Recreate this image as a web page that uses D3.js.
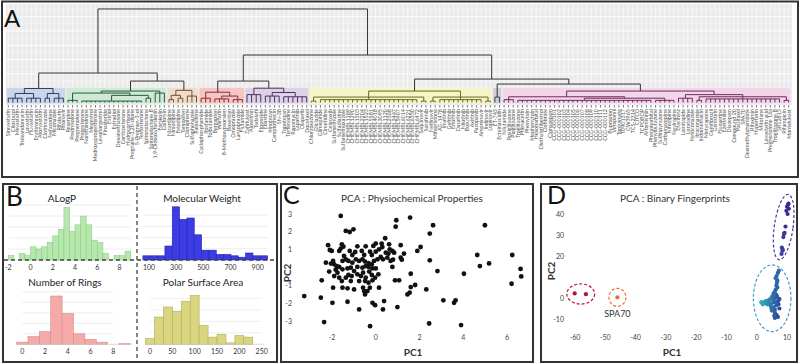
<!DOCTYPE html>
<html>
<head>
<meta charset="utf-8">
<script src="https://cdnjs.cloudflare.com/ajax/libs/d3/7.8.5/d3.min.js"></script>
<style>
body { margin: 0; background: #fff; }
svg { display: block; }
text { font-family: Lato, "Open Sans", "Liberation Sans", sans-serif; }
</style>
</head>
<body>
<svg id="fig" width="800" height="364"></svg>
<script>
// ---------- Panel A : dendrogram data ----------
const leafLabels = [
  // blue
  "Simvastatin","Cilostazol","Mevastatin","Troleandomycin","Lovastatin","Fluvastatin","Erythromycin","Atorvastatin","Clotrimazole","Nefazodone","Miconazole","Rifabutin","Ritonavir",
  // green
  "Reserpine","Prednisolone","Pregnenolone","Progesterone","Norethindrone","Megestrol","Medroxyprogesterone","Levonorgestrel","Finasteride","Estriol","Estradiol","Dexamethasone","Corticosterone","Hydrocortisone","Pregnane-3,20-dione","5-Pregnen-3-ol","Testosterone","Spironolactone","Spironolactone B","1,9-Dideoxyforskolin","Forskolin","Colforsin",
  // tan
  "Nicardipine","Nimodipine","Felodipine","Tamoxifen","Clomiphene","Sulfaphenazole","Raloxifene",
  // red
  "Cyclophosphamide","Ifosfamide","Tolbutamide","Bergapten","Warfarin","8-Methoxypsoralen","Bosentan","Omeprazole","Lansoprazole","Flutamide",
  // purple
  "Zafirlukast","Alosetron","Tadalafil","Etoposide","Ebastine","Irinotecan","Camptothecin","SN-38","Topotecan","Terfenadine","Rapamycin","Lapatinib","Olaparib","Docetaxel",
  // yellow
  "Chlorzoxazone","Gliclazide","Glimepiride","Cimetidine","Celecoxib","Sulfamethizole","Sulfadiazine","Sulfamethoxazole",
  "CHEMBL1189","CHEMBL1290","CHEMBL1303","CHEMBL2204","CHEMBL1523","CHEMBL5581","CHEMBL4018","CHEMBL3095",
  "CHEMBL1120","CHEMBL2368","CHEMBL2447","CHEMBL5907","CHEMBL6014","CHEMBL6221","CHEMBL6350","CHEMBL6472",
  "Saquinavir","Sorafenib","Nelfinavir","Mifepristone","AG-1478","Imatinib","Gefitinib","Erlotinib","Dasatinib","Nilotinib","Bosutinib","Axitinib","Pazopanib","Amprenavir","Indinavir","Lopinavir",
  // grey
  "ET-743","Ecteinascidin",
  // pink
  "Nilutamide","Rosiglitazone","Pioglitazone","Troglitazone","Phenacetin","Phenytoin","Mephenytoin","Hexobarbital","Diethylstilbestrol","Clofibrate","Clonazepam",
  "CCG-000101","CCG-000102","CCG-000103","CCG-000104","CCG-000105","CCG-000106","CCG-000107","CCG-000108","CCG-000109","CCG-000110","CCG-000111","CCG-000112",
  "Bupropion","Verapamil","Topiramate","T0901317","GW3965","TCS-2314","CITCO","TCPOBOP","Artemisinin","Phenobarbital",
  "Phenylbutazone","Sulfinpyrazone","Carbamazepine","Nifedipine","Nevirapine","Efavirenz","Lomitapide","Loratadine","Ketoconazole","Itraconazole",
  "Indomethacin","Metyrapone","Gemfibrozil","Genistein","Fluoxetine","Ezetimibe","Diazepam","Compound 20","Paclitaxel","SPA70",
  "Dexmethylphenidate","Rifaximin","Hyperforin","Mitotane","Lovastatin acid","Pregnenolone 16a","Troglitazone B","SR12813","Rifampicin","Montelukast"
]

// each cluster: [height, child, child...]  (a number = that many leaves)
const clusterTrees = [
  [0.98, [0.63, [0.3, 4], [0.3, 4]], [0.63, [0.3, 2], [0.3, 3]]],
  [0.80, [0.66, [0.15, 3], [0.5, [0.1, 14], [0.3, 2]]], [0.66, 3]],
  [0.85, [0.5, [0.2, 2], [0.3, 2]], [0.45, 3]],
  [0.72, [0.3, 3], [0.45, [0.25, 4], [0.2, 3]]],
  [1.0, [0.55, 4], [0.7, [0.45, 4], [0.4, 6]]],
  [0.8, [0.38, [0.1, 2], [0.2, 22], [0.1, 2]], [0.38, [0.1, 2], [0.2, 10], [0.1, 2]]],
  [0.38, 2],
  [0.8, [0.4, [0.2, 3], [0.3, [0.15, 30], [0.15, 5]]], [0.55, [0.3, 4], [0.4, [0.15, 2], [0.25, 17], [0.15, 2]]]]
]
// upper part of the tree, numbers are cluster indexes
const upperTree = [6.54, [2.06, 0, [1.5, 1, 2]], [3.32, [1.5, 3, 4], [1.64, 5, [1.29, 6, 7]]]]

const clusterFills = ["#c9d4ea", "#cde9d4", "#eedccb", "#f6c3c3", "#ddd0e6", "#f6f4c4", "#c9ced8", "#f3d4ea"]
const clusterLines = ["#2e3b66", "#245c3a", "#7a4c2c", "#8c2c2c", "#4b3064", "#6a6920", "#3a4152", "#6d2c5c"]

// ---------- Panel B : histogram data ----------
const alogpCounts = [2, 0, 3, 2, 6, 5, 6, 8, 11, 14, 24, 13, 16, 20, 16, 9, 8, 3, 0, 2, 2, 4]
const alogpTicks = [-2, 0, 2, 4, 6, 8]
const mwCounts = [3, 3, 3, 10, 38, 29, 30, 18, 7, 7, 4, 4, 3, 2, 5, 3, 3]
const mwTicks = [100, 300, 500, 700, 900]
const ringCounts = [3, 11, 18, 69, 44, 15, 7, 3, 0, 1]
const ringTicks = [0, 2, 4, 6, 8]
const psaCounts = [4, 19, 26, 23, 30, 34, 13, 5, 7, 1, 6, 5]
const psaTicks = [0, 50, 100, 150, 200, 250]

// ---------- Panel C : PCA physicochemical ----------
const physPC1 = [-1.60, 1.57, 0.94, 0.91, 2.62, 2.47, 4.99, -1.37, -1.19, -1.02, 0.43, 0.27, 0, -0.11, -0.46, -0.84, 1.14, -2.18, -2.10, -2.01,
  -1.55, -1.48, -1.60, -1.67, -1.19, -0.94, -0.64, 0.15, 0.30, 0.61, 0.64, 0.76, 0.84, 1.29, 1.90, 2.05, 4.64, 6.24, -0.26, -0.18,
  0, -2.28, -2.05, -1.90, -1.78, -1.52, -1.37, -1.25, -1.07, -0.91, -0.76, -0.61, -0.49, -0.33, -0.18, -0.08, 0.08, 0.23, 0.33, 0.53,
  0.68, 0.79, 1.14, 1.19, 2.47, 0.76, -1.83, -1.52, -1.29, -1.67, -1.14, -0.61, -0.33, -0.15, 0, 4.76, 5.18, 4.03, 6.62, 6.65,
  6.21, -2.47, -2.13, -1.90, -1.75, -1.67, -1.55, -1.37, -1.25, -1.10, -0.99, -0.84, -0.68, -0.58, -0.46, -0.30, -0.18, -0.03, 0.12, -0.49,
  -0.33, -0.15, -0.27, 0.15, -1.95, -1.52, -1.29, -0.99, 0.88, 1.07, 1.60, 2.82, 1.80, 1.60, 1.55, 2.31, -3.27, -2.51, -1.98, -1.29,
  -0.58, -0.53, -0.49, -0.38, 0.38, 0.33, -0.15, -0.03, -0.76, 0.99, 3.09, 3.65, 3.58, -2.36, -0.26, 2.44, 3.90, 1.45, -1.45, -1.07,
  -0.53, 0.46, 0.58, -0.84, -0.46, -1.95, -1.14, -0.76]
const physPC2 = [2.89, 2.80, 2.65, 2.29, 2.37, 1.90, 2.37, 2.05, 1.99, 2.14, 1.64, 1.34, 1.34, 1.21, 1.19, 1.19, 1.25, 1.25, 0.98, 0.93,
  1.30, 1.17, 1.06, 0.93, 0.93, 0.87, 0.93, 1.02, 1.15, 1.30, 1.02, 0.93, 0.83, 0.78, 0.93, 1.15, 0.70, 0.70, 0.89, 0.70,
  0.89, 0.27, 0.22, 0.18, 0.07, 0.37, 0.46, 0.37, 0.27, 0.46, 0.37, 0.46, 0.33, 0.25, 0.18, 0.37, 0.46, 0.59, 0.46, 0.55,
  0.37, 0.44, 0.55, 0.44, 0.40, 0.03, -0.12, -0.10, -0.05, 0.03, -0.01, -0.01, 0.03, -0.05, -0.05, 0.08, 0.23, -0.35, -0.08, -0.50,
  -0.91, -0.72, -0.23, -0.48, -0.29, -0.57, -0.76, -0.57, -0.42, -0.48, -0.20, -0.38, -0.48, -0.29, -0.57, -0.23, -0.42, -0.57, -0.38, -0.76,
  -0.85, -0.72, -1.13, -1.13, -1.13, -1.13, -1.17, -1.23, -0.72, -0.72, -0.35, -0.20, -0.98, -1.10, -1.41, -1.23, -1.60, -1.69, -1.98, -1.92,
  -1.13, -1.32, -1.51, -1.32, -1.88, -2.35, -1.98, -2.11, -2.35, -2.22, -1.84, -1.84, -1.98, -3.06, -3.29, -3.14, -3.23, -1.51, 0.65, 0.70,
  0.70, 0.83, 0.78, 0.03, 0.08, 0.37, -0.76, -0.76]
const physXTicks = [-2, 0, 2, 4, 6]
const physYTicks = [-3, -2, -1, 1, 2, 3]

// ---------- Panel D : PCA binary fingerprints ----------
const fpPC1 = [-60.1, -56.4, -46.0,
  10.4, 10.0, 10.6, 9.8, 10.2, 9.5, 9.0, 8.8, 8.3, 8.5, 8.2, 8.6, 9.2, 10.5,
  7.3, 7.0, 6.8, 6.7, 6.5, 6.8, 6.3, 6.0, 5.5, 6.5, 5.8, 5.0, 6.0, 4.5, 5.5, 3.5, 4.0, 2.5, 1.5, 3.0,
  5.0, 6.0, 7.0, 7.2, 6.5, 4.5, 3.5, 2.0, 5.5, 6.0, 5.0, 6.0, 6.5, 5.8, 7.0, 6.0, 7.5, 6.8, 4.0, 3.0,
  5.8, 6.2, 6.6, 7.5, 4.8]
const fpPC2 = [2.2, 1.8, 0.3,
  44.5, 43.5, 42.5, 41.5, 40.0, 34.0, 30.5, 29.0, 24.0, 22.5, 21.0, 23.0, 31.0, 45.0,
  13.0, 12.0, 8.5, 7.5, 6.0, 5.0, 4.0, 3.0, 2.0, 1.5, 1.0, 0.5, 0.0, -0.5, -1.0, -1.5, -2.0, -2.0, -2.0, -2.5,
  -2.5, -2.0, -1.5, -3.0, -3.5, -3.5, -3.0, -3.0, -4.5, -5.5, -6.0, -7.0, -8.0, -8.5, -9.0, -9.5, -0.5, 0.5, -1.0, -1.5,
  2.5, 9.5, 10.5, -5.0, -4.8]
const fpGroup = ["red", "red", "orange",
  "purple", "purple", "purple", "purple", "purple", "purple", "purple", "purple", "purple", "purple", "purple", "purple", "purple", "purple",
  "blue", "blue", "blue", "blue", "blue", "blue", "blue", "blue", "blue", "blue", "blue", "blue", "blue", "blue", "blue", "blue", "blue", "blue", "blue", "blue",
  "blue", "blue", "blue", "blue", "blue", "blue", "blue", "blue", "blue", "blue", "blue", "blue", "blue", "blue", "blue", "blue", "blue", "blue", "blue", "blue",
  "blue", "blue", "blue", "blue", "blue"]
const fpXTicks = [-60, -50, -40, -30, -20, -10, 0, 10]
const fpYTicks = [-10, 0, 20, 30, 40]
// dashed ellipses: centre, radii in data units
const fpEllipseCX = [-58.1, -46.0, 8.9, 5.1]
const fpEllipseCY = [1.9, 0.3, 33.8, -0.15]
const fpEllipseRX = [4.6, 2.8, 3.1, 6.2]
const fpEllipseRY = [4.8, 4.3, 15.7, 15.9]
const fpEllipseTilt = [0, 0, 8, 0]
const fpEllipseColor = ["#c0122c", "#f26a2a", "#4b36a6", "#3d9bd3"]

const fig = d3.select("#fig")

// ================= Panel A =================
let leafCounter = 0
function buildCluster(spec, c){
    let node = {h: spec[0], cluster: c, children: []}
    spec.slice(1).forEach(ch => {
        if (typeof ch === "number"){
            for (let k = 0; k < ch; k++) node.children.push({h: 0, cluster: c, idx: leafCounter++})
        }
        else node.children.push(buildCluster(ch, c))
    })
    return node
}
function buildUpper(spec){
    let node = {h: spec[0], children: []}
    spec.slice(1).forEach(ch => {
        if (typeof ch === "number") node.children.push(buildCluster(clusterTrees[ch], ch))
        else node.children.push(buildUpper(ch))
    })
    return node
}
const treeRoot = d3.hierarchy(buildUpper(upperTree))

const xLeaf = d3.scaleBand().domain(d3.range(leafLabels.length)).range([6, 791])
const bw = xLeaf.bandwidth()
const yH = d3.scaleLinear().domain([0, 7]).range([102.5, 102.5 - 7 * 14.3])

treeRoot.eachAfter(n => {
    if (n.children) n.x = (n.children[0].x + n.children[n.children.length - 1].x) / 2
    else n.x = xLeaf(n.data.idx) + bw / 2
})

const gA = fig.append("g")
gA.append("rect").attr("x", 6).attr("y", 4).attr("width", 786).attr("height", 101).attr("fill", "#ebebeb")
gA.selectAll("line.vgrid").data(d3.range(leafLabels.length)).join("line")
    .attr("x1", d => xLeaf(d) + bw / 2).attr("x2", d => xLeaf(d) + bw / 2)
    .attr("y1", 4).attr("y2", 105).attr("stroke", "#fff").attr("stroke-width", 0.6)
gA.selectAll("line.hminor").data(d3.range(0.5, 7, 1)).join("line")
    .attr("x1", 6).attr("x2", 792).attr("y1", d => yH(d)).attr("y2", d => yH(d))
    .attr("stroke", "#fff").attr("stroke-width", 0.4)
gA.selectAll("line.hgrid").data(d3.range(0, 7)).join("line")
    .attr("x1", 6).attr("x2", 792).attr("y1", d => yH(d)).attr("y2", d => yH(d))
    .attr("stroke", "#fff").attr("stroke-width", 0.9)

// cluster boxes
const leaves = treeRoot.leaves()
clusterTrees.forEach((t, c) => {
    let ids = leaves.filter(l => l.data.cluster === c).map(l => l.data.idx)
    let x0 = xLeaf(d3.min(ids)) + 0.6
    let x1 = xLeaf(d3.max(ids)) + bw - 0.6
    gA.append("rect").attr("x", x0).attr("width", x1 - x0)
        .attr("y", yH(1.03)).attr("height", yH(-0.06) - yH(1.03))
        .attr("fill", clusterFills[c]).attr("opacity", 0.95)
})

// branches
let segs = []
treeRoot.each(n => {
    if (!n.children) return
    let col = n.data.cluster === undefined ? "#333" : clusterLines[n.data.cluster]
    let kids = n.children
    segs.push({d: `M${kids[0].x},${yH(n.data.h)}H${kids[kids.length - 1].x}`, col: col})
    kids.forEach(k => segs.push({d: `M${k.x},${yH(n.data.h)}V${yH(k.data.h)}`, col: col}))
})
gA.selectAll("path.branch").data(segs).join("path")
    .attr("d", d => d.d).attr("stroke", d => d.col).attr("stroke-width", 1).attr("fill", "none")

// ticks + labels
gA.selectAll("line.tick").data(leaves).join("line")
    .attr("x1", d => d.x).attr("x2", d => d.x).attr("y1", 105).attr("y2", 107.5)
    .attr("stroke", "#555").attr("stroke-width", 0.8)
gA.selectAll("text.leaf").data(leaves).join("text")
    .attr("transform", d => `translate(${d.x + 1.9},109) rotate(-90)`)
    .attr("text-anchor", "end").attr("font-size", 5.4).attr("fill", "#555")
    .text(d => leafLabels[d.data.idx] || "")

gA.append("text").attr("x", 4).attr("y", 27).attr("font-size", 24).attr("fill", "#111").text("A")

// ================= Panel B =================
const gB = fig.append("g")
function drawHist(spec){
    let xs = d3.scaleLinear().domain(spec.xDomain).range(spec.xRange)
    let ys = d3.scaleLinear().domain([0, spec.yMax]).range([spec.base, spec.base - 56])
    gB.selectAll(null).data(d3.range(spec.gridStep, spec.yMax, spec.gridStep)).join("line")
        .attr("x1", spec.xRange[0]).attr("x2", spec.xRange[1])
        .attr("y1", d => ys(d)).attr("y2", d => ys(d))
        .attr("stroke", "#e6e6e6").attr("stroke-width", 0.7)
    let bins = spec.counts.map((c, i) => ({c: c, x0: spec.start + i * spec.width, x1: spec.start + (i + 1) * spec.width}))
    gB.selectAll(null).data(bins.filter(b => b.c > 0)).join("rect")
        .attr("x", d => xs(d.x0)).attr("width", d => xs(d.x1) - xs(d.x0))
        .attr("y", d => ys(d.c)).attr("height", d => spec.base - ys(d.c))
        .attr("fill", spec.fill).attr("stroke", spec.stroke).attr("stroke-width", 0.6)
    gB.selectAll(null).data(spec.ticks).join("text")
        .attr("x", d => xs(d)).attr("y", spec.base + 10).attr("text-anchor", "middle")
        .attr("font-size", 7).attr("fill", "#333").text(d => d)
    gB.append("text").attr("x", spec.titleX).attr("y", spec.base - 58).attr("text-anchor", "middle")
        .attr("font-size", 10).attr("fill", "#222").text(spec.title)
}
drawHist({counts: alogpCounts, start: -2, width: 0.5, xDomain: [-2, 9], xRange: [8.3, 130.7], yMax: 25.5, base: 260,
    gridStep: 5, ticks: alogpTicks, title: "ALogP", titleX: 62, fill: "#b6e8ae", stroke: "#8ccc84"})
drawHist({counts: mwCounts, start: 55, width: 54, xDomain: [55, 973], xRange: [142.9, 267.6], yMax: 40, base: 260,
    gridStep: 8, ticks: mwTicks, title: "Molecular Weight", titleX: 202, fill: "#3c3ce6", stroke: "#2424a8"})
drawHist({counts: ringCounts, start: -0.5, width: 1, xDomain: [0, 8], xRange: [22.3, 113.3], yMax: 80, base: 344.3,
    gridStep: 15, ticks: ringTicks, title: "Number of Rings", titleX: 65, fill: "#f6a9a9", stroke: "#d98a8a"})
drawHist({counts: psaCounts, start: -10, width: 20, xDomain: [0, 250], xRange: [150, 261.7], yMax: 39, base: 344.3,
    gridStep: 8, ticks: psaTicks, title: "Polar Surface Area", titleX: 203, fill: "#d9d67f", stroke: "#b0ac5c"})

gB.append("line").attr("x1", 16).attr("x2", 132).attr("y1", 344.3).attr("y2", 344.3).attr("stroke", "#ccc").attr("stroke-width", 0.7)
gB.append("line").attr("x1", 145).attr("x2", 264).attr("y1", 344.3).attr("y2", 344.3).attr("stroke", "#ccc").attr("stroke-width", 0.7)
gB.append("line").attr("x1", 4).attr("x2", 276).attr("y1", 260).attr("y2", 260)
    .attr("stroke", "#444").attr("stroke-width", 1.3).attr("stroke-dasharray", "4,3")
gB.append("line").attr("x1", 137).attr("x2", 137).attr("y1", 186).attr("y2", 361)
    .attr("stroke", "#444").attr("stroke-width", 1.3).attr("stroke-dasharray", "4,3")
gB.append("text").attr("x", 6).attr("y", 206).attr("font-size", 26).attr("fill", "#111").text("B")

// ================= Panel C =================
const gC = fig.append("g")
const xC = d3.scaleLinear().domain([-2, 6]).range([332, 507])
const yC = d3.scaleLinear().domain([-3, 3]).range([321, 214])
gC.selectAll("circle").data(physPC1.map((v, i) => [v, physPC2[i]])).join("circle")
    .attr("cx", d => xC(d[0])).attr("cy", d => yC(d[1])).attr("r", 2.4).attr("fill", "#111")
gC.selectAll("text.xt").data(physXTicks).join("text")
    .attr("x", d => xC(d)).attr("y", 340).attr("text-anchor", "middle").attr("font-size", 7).attr("fill", "#444").text(d => d)
gC.selectAll("text.yt").data(physYTicks).join("text")
    .attr("x", 292).attr("y", d => yC(d) + 2.5).attr("text-anchor", "end").attr("font-size", 7).attr("fill", "#444").text(d => d)
gC.append("text").attr("x", 412).attr("y", 201.5).attr("text-anchor", "middle").attr("font-size", 10).attr("fill", "#333")
    .text("PCA : Physiochemical Properties")
gC.append("text").attr("x", 413).attr("y", 356).attr("text-anchor", "middle").attr("font-size", 10).attr("font-weight", "bold")
    .attr("fill", "#333").text("PC1")
gC.append("text").attr("transform", "translate(291,273) rotate(-90)").attr("text-anchor", "middle").attr("font-size", 10)
    .attr("font-weight", "bold").attr("fill", "#333").text("PC2")
gC.append("text").attr("x", 283).attr("y", 204).attr("font-size", 25).attr("fill", "#111").text("C")

// ================= Panel D =================
const gD = fig.append("g")
const xD = d3.scaleLinear().domain([-60, 10]).range([575, 787])
const yD = d3.scaleLinear().domain([-10, 40]).range([319, 214])
const blueShade = d3.scaleLinear().domain([1.5, 7.5]).range(["#2fb2bb", "#2b4f9e"])
const purpleShade = d3.scaleLinear().domain([20, 45]).range(["#3f3fa0", "#3a2a90"])
function fpColor(g, i){
    if (g === "red") return "#b3123f"
    if (g === "orange") return "#f36b2c"
    if (g === "purple") return purpleShade(fpPC2[i])
    return blueShade(fpPC1[i] - fpPC2[i] * 0.08)
}
gD.selectAll("circle").data(fpPC1.map((v, i) => i)).join("circle")
    .attr("cx", i => xD(fpPC1[i])).attr("cy", i => yD(fpPC2[i])).attr("r", 2.1)
    .attr("fill", i => fpColor(fpGroup[i], i))
gD.selectAll("ellipse").data(fpEllipseCX.map((v, i) => i)).join("ellipse")
    .attr("cx", i => xD(fpEllipseCX[i])).attr("cy", i => yD(fpEllipseCY[i]))
    .attr("rx", i => xD(fpEllipseCX[i] + fpEllipseRX[i]) - xD(fpEllipseCX[i]))
    .attr("ry", i => yD(fpEllipseCY[i]) - yD(fpEllipseCY[i] + fpEllipseRY[i]))
    .attr("transform", i => `rotate(${fpEllipseTilt[i]},${xD(fpEllipseCX[i])},${yD(fpEllipseCY[i])})`)
    .attr("fill", "none").attr("stroke", i => fpEllipseColor[i]).attr("stroke-width", 1.2).attr("stroke-dasharray", "3,2")
gD.selectAll("text.xt").data(fpXTicks).join("text")
    .attr("x", d => xD(d)).attr("y", 339.5).attr("text-anchor", "middle").attr("font-size", 7).attr("fill", "#444").text(d => d)
gD.selectAll("text.yt").data(fpYTicks).join("text")
    .attr("x", 564).attr("y", d => yD(d) + 2.5).attr("text-anchor", "end").attr("font-size", 7).attr("fill", "#444").text(d => d)
gD.append("text").attr("x", xD(fpPC1[2])).attr("y", 317).attr("text-anchor", "middle").attr("font-size", 9).attr("fill", "#333").text("SPA70")
gD.append("text").attr("x", 675).attr("y", 201.5).attr("text-anchor", "middle").attr("font-size", 10).attr("fill", "#333")
    .text("PCA : Binary Fingerprints")
gD.append("text").attr("x", 672).attr("y", 356).attr("text-anchor", "middle").attr("font-size", 10).attr("font-weight", "bold")
    .attr("fill", "#333").text("PC1")
gD.append("text").attr("transform", "translate(555,271) rotate(-90)").attr("text-anchor", "middle").attr("font-size", 10)
    .attr("font-weight", "bold").attr("fill", "#333").text("PC2")
gD.append("text").attr("x", 547).attr("y", 204).attr("font-size", 25).attr("fill", "#111").text("D")

// ---------- panel frames ----------
const frames = [[2, 1.5, 796, 175.5], [3, 184, 274, 178], [281, 184, 252, 178], [541, 184, 256, 178]]
fig.selectAll("rect.frame").data(frames).join("rect")
    .attr("x", d => d[0]).attr("y", d => d[1]).attr("width", d => d[2]).attr("height", d => d[3])
    .attr("fill", "none").attr("stroke", "#333").attr("stroke-width", 2)
</script>
</body>
</html>
